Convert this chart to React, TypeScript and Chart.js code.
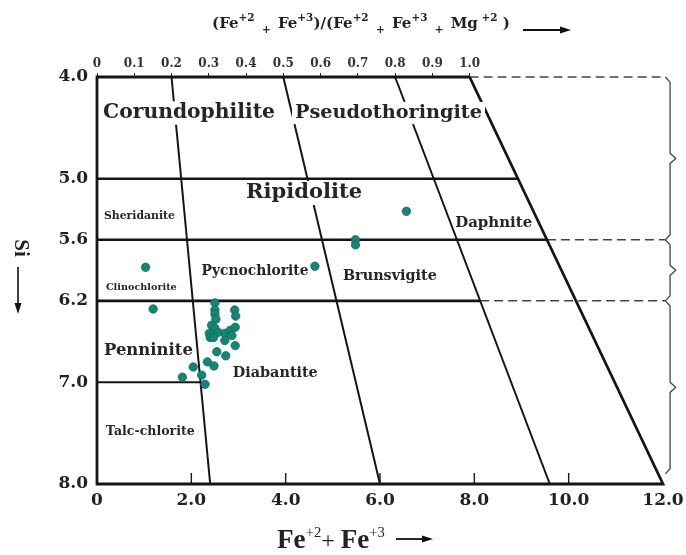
import React, { useEffect, useRef } from "react";
import { Chart, registerables } from "chart.js";

Chart.register(...registerables);

// ---- axis ticks ----
const FE_TICKS = [0, 2, 4, 6, 8, 10, 12];
const SI_TICKS = [4.0, 5.0, 5.6, 6.2, 7.0, 8.0];
const RATIO_TICKS = [0, 0.1, 0.2, 0.3, 0.4, 0.5, 0.6, 0.7, 0.8, 0.9, 1.0];

// ---- samples (Fe2+ + Fe3+, Si) ----
const SAMPLE_FE = [
  6.56, 5.48, 5.48, 4.62, 1.03, 1.19,
  2.50, 2.50, 2.50, 2.52, 2.92, 2.94, 2.43, 2.50, 2.57, 2.38, 2.40,
  2.71, 2.82, 2.93, 2.86, 2.71, 2.47, 2.93, 2.54, 2.73, 2.34, 2.48,
  2.04, 2.22, 1.81, 2.29,
];
const SAMPLE_SI = [
  5.32, 5.60, 5.65, 5.86, 5.87, 6.28,
  6.22, 6.29, 6.33, 6.38, 6.29, 6.35, 6.44, 6.47, 6.51, 6.52, 6.56,
  6.52, 6.49, 6.46, 6.54, 6.59, 6.56, 6.64, 6.70, 6.74, 6.80, 6.84,
  6.85, 6.93, 6.95, 7.02,
];

// ---- field boundaries ----
const FE_SUM_AT_SI4 = 7.9;
const FE_SUM_AT_SI8 = 12;
const RATIO_LINES = [0.2, 0.5, 0.8];
const SI_LINES = [5.0, 5.6, 6.2, 7.0];
const SI_LINE_END_RATIO = [1.0, 1.0, 0.8, 0.2];
const DASHED_SI = [4.0, 5.6, 6.2];
const DASHED_START_RATIO = [1.0, 1.0, 0.8];
const BRACKET_FE = 12.15;
const BRACKET_SI_RANGES = [
  [4.0, 5.6],
  [5.6, 6.2],
  [6.2, 7.9],
];

// ---- field names ----
const FIELD_NAMES = [
  "Corundophilite",
  "Pseudothoringite",
  "Ripidolite",
  "Sheridanite",
  "Clinochlorite",
  "Pycnochlorite",
  "Brunsvigite",
  "Daphnite",
  "Penninite",
  "Diabantite",
  "Talc-chlorite",
];
const FIELD_FE = [1.95, 6.18, 4.39, 0.9, 0.94, 3.35, 6.21, 8.41, 1.09, 3.78, 1.13];
const FIELD_SI = [4.354, 4.354, 5.14, 5.366, 6.064, 5.91, 5.956, 5.435, 6.693, 6.91, 7.49];
// label styling (rendered width in px, white mask behind)
const FIELD_WIDTH_PX = [172, 187, 116, 71, 71, 107, 94, 77, 89, 85, 89];
const FIELD_MASK = [true, true, true, false, false, false, false, false, false, false, false];

const SERIF = '"DejaVu Serif", serif';
const TIMES = '"Liberation Serif", "Times New Roman", serif';

function feOnRatio(r: number, si: number) {
  return r * (FE_SUM_AT_SI4 + ((si - 4) / 4) * (FE_SUM_AT_SI8 - FE_SUM_AT_SI4));
}

type Seg = { t: string; size: number; weight: string; family: string; dy: number };

function drawRich(ctx: CanvasRenderingContext2D, segs: Seg[], x: number, y: number, targetWidth?: number) {
  let total = 0;
  for (const s of segs) {
    ctx.font = `${s.weight} ${s.size}px ${s.family}`;
    total += ctx.measureText(s.t).width;
  }
  const k = targetWidth ? targetWidth / total : 1;
  let cx = x;
  ctx.textAlign = "left";
  ctx.textBaseline = "alphabetic";
  for (const s of segs) {
    ctx.font = `${s.weight} ${s.size * k}px ${s.family}`;
    ctx.fillText(s.t, cx, y + s.dy * k);
    cx += ctx.measureText(s.t).width;
  }
}

function drawArrow(ctx: CanvasRenderingContext2D, x1: number, y1: number, x2: number, y2: number, head = 10, half = 3.5, lw = 1.6) {
  const a = Math.atan2(y2 - y1, x2 - x1);
  ctx.beginPath();
  ctx.lineWidth = lw;
  ctx.moveTo(x1, y1);
  ctx.lineTo(x2 - Math.cos(a) * head * 0.8, y2 - Math.sin(a) * head * 0.8);
  ctx.stroke();
  ctx.beginPath();
  ctx.moveTo(x2, y2);
  ctx.lineTo(x2 - Math.cos(a) * head - Math.sin(a) * half, y2 - Math.sin(a) * head + Math.cos(a) * half);
  ctx.lineTo(x2 - Math.cos(a) * head + Math.sin(a) * half, y2 - Math.sin(a) * head - Math.cos(a) * half);
  ctx.closePath();
  ctx.fill();
}

const overlay = {
  id: "overlay",
  afterDatasetDraw(chart: any, args: any) {
    if (args.index !== 1) return;
    const { ctx } = chart;
    const xs = chart.scales.x;
    const ys = chart.scales.y;
    ctx.save();
    FIELD_NAMES.forEach((name, i) => {
      ctx.font = `bold 20px ${SERIF}`;
      const m = ctx.measureText(name).width;
      const size = (20 * FIELD_WIDTH_PX[i]) / m;
      ctx.font = `bold ${size}px ${SERIF}`;
      const px = xs.getPixelForValue(FIELD_FE[i]);
      const py = ys.getPixelForValue(FIELD_SI[i]);
      if (FIELD_MASK[i]) {
        const h = size * 1.05;
        ctx.fillStyle = "#ffffff";
        ctx.fillRect(px - FIELD_WIDTH_PX[i] / 2 - 3, py - h / 2 - 1, FIELD_WIDTH_PX[i] + 6, h + 2);
      }
      ctx.fillStyle = "#262626";
      ctx.textAlign = "center";
      ctx.textBaseline = "middle";
      ctx.fillText(name, px, py);
    });
    ctx.restore();
  },
  afterDraw(chart: any) {
    const { ctx } = chart;
    const xs = chart.scales.x;
    const area = chart.chartArea;
    ctx.save();
    ctx.strokeStyle = "#1a1a1a";
    ctx.fillStyle = "#1a1a1a";
    // inner tick marks on the bottom axis
    ctx.lineWidth = 1.4;
    FE_TICKS.forEach((v) => {
      if (v === FE_TICKS[0] || v === FE_TICKS[FE_TICKS.length - 1]) return;
      const px = xs.getPixelForValue(v);
      ctx.beginPath();
      ctx.moveTo(px, area.bottom);
      ctx.lineTo(px, area.bottom - 11);
      ctx.stroke();
    });

    // top title
    ctx.fillStyle = "#222";
    const n = (t: string): Seg => ({ t, size: 13, weight: "bold", family: SERIF, dy: 0 });
    const sup = (t: string): Seg => ({ t, size: 9, weight: "bold", family: SERIF, dy: -6 });
    const lo = (t: string): Seg => ({ t, size: 9, weight: "bold", family: SERIF, dy: 4 });
    drawRich(
      ctx,
      [n("(Fe"), sup("+2"), lo("  +  "), n("Fe"), sup("+3"), n(")/(Fe"), sup("+2"), lo("  +  "), n("Fe"), sup("+3"), lo("  +  "), n("Mg"), sup(" +2"), n(" )")],
      212,
      28,
      298
    );
    ctx.fillStyle = "#111";
    ctx.strokeStyle = "#111";
    drawArrow(ctx, 523, 30, 571, 30, 11, 3.5, 1.8);

    // bottom title
    ctx.fillStyle = "#222";
    const B = (t: string): Seg => ({ t, size: 26, weight: "bold", family: TIMES, dy: 0 });
    const S = (t: string): Seg => ({ t, size: 14, weight: "normal", family: TIMES, dy: -11 });
    const P = (t: string): Seg => ({ t, size: 23, weight: "normal", family: TIMES, dy: 0 });
    drawRich(ctx, [B("Fe"), S("+2"), P("+ "), B("Fe"), S("+3")], 277, 548, 108);
    ctx.fillStyle = "#111";
    drawArrow(ctx, 396, 539, 433, 539, 11, 3.5, 1.8);

    // left title "Si" rotated
    ctx.save();
    ctx.translate(20, 248);
    ctx.rotate(Math.PI / 2);
    ctx.fillStyle = "#222";
    ctx.font = `bold 21px ${TIMES}`;
    ctx.textAlign = "center";
    ctx.textBaseline = "middle";
    ctx.fillText("Si", 0, 0);
    ctx.restore();
    drawArrow(ctx, 18, 267, 18, 314, 11, 3.5, 1.6);
    ctx.restore();
  },
};

const zeroPad = (s: any) => {
  s.paddingLeft = 0;
  s.paddingRight = 0;
  s.paddingTop = 0;
  s.paddingBottom = 0;
};

export default function App() {
  const ref = useRef<HTMLCanvasElement | null>(null);

  useEffect(() => {
    if (!ref.current) return;
    const pt = (x: number, y: number) => ({ x, y });
    const line = (data: any[], width: number, extra: any = {}) => ({
      data,
      showLine: true,
      borderColor: "#151515",
      borderWidth: width,
      pointRadius: 0,
      pointHoverRadius: 0,
      fill: false,
      tension: 0,
      clip: false,
      borderJoinStyle: "miter",
      ...extra,
    });

    const datasets: any[] = [];
    // 0: samples
    datasets.push({
      data: SAMPLE_FE.map((fe, i) => pt(fe, SAMPLE_SI[i])),
      pointRadius: 4.2,
      pointStyle: "circle",
      backgroundColor: "#168672",
      borderColor: "#0e6a5a",
      borderWidth: 0.8,
      showLine: false,
      clip: false,
    });
    // 1: frame (top, left, bottom, right boundary)
    datasets.push(
      line(
        [
          pt(feOnRatio(1, 4), 4),
          pt(0, 4),
          pt(0, 8),
          pt(feOnRatio(1, 8), 8),
          pt(feOnRatio(1, 4), 4),
        ],
        2.8
      )
    );
    // ratio lines
    RATIO_LINES.forEach((r) => {
      datasets.push(line([pt(feOnRatio(r, 4), 4), pt(feOnRatio(r, 8), 8)], 2.0));
    });
    // Si boundary lines
    SI_LINES.forEach((si, i) => {
      datasets.push(line([pt(0, si), pt(feOnRatio(SI_LINE_END_RATIO[i], si), si)], si === 7.0 ? 2.0 : 2.6));
    });
    // dashed extensions
    DASHED_SI.forEach((si, i) => {
      datasets.push(
        line([pt(feOnRatio(DASHED_START_RATIO[i], si), si), pt(BRACKET_FE - 0.1, si)], 1.5, {
          borderDash: [9, 5],
          borderColor: "#444",
        })
      );
    });
    // brackets
    BRACKET_SI_RANGES.forEach(([a, b]) => {
      const mid = (a + b) / 2;
      datasets.push(
        line(
          [
            pt(BRACKET_FE - 0.1, a),
            pt(BRACKET_FE, a + 0.05),
            pt(BRACKET_FE, mid - 0.05),
            pt(BRACKET_FE + 0.12, mid),
            pt(BRACKET_FE, mid + 0.05),
            pt(BRACKET_FE, b - 0.05),
            pt(BRACKET_FE - 0.1, b),
          ],
          1.3,
          { borderColor: "#444", borderJoinStyle: "round" }
        )
      );
    });

    const tickFont = { family: SERIF, weight: "bold" as const, size: 17 };

    const chart = new Chart(ref.current, {
      type: "scatter",
      data: { datasets },
      plugins: [overlay],
      options: {
        animation: false,
        responsive: false,
        devicePixelRatio: 1,
        events: [],
        layout: { autoPadding: false, padding: { left: 0, right: 23, top: 0, bottom: 0 } },
        plugins: { legend: { display: false }, tooltip: { enabled: false }, title: { display: false } },
        scales: {
          x: {
            type: "linear",
            position: "bottom",
            min: 0,
            max: 12,
            afterBuildTicks: (s: any) => {
              s.ticks = FE_TICKS.map((v) => ({ value: v }));
            },
            afterFit: (s: any) => {
              s.height = 71;
              zeroPad(s);
            },
            grid: { display: false, drawTicks: false },
            border: { display: false },
            ticks: {
              autoSkip: false,
              maxRotation: 0,
              padding: 6,
              color: "#222",
              font: tickFont,
              callback: (v: any) => (Number(v) === 0 ? "0" : Number(v).toFixed(1)),
            },
          },
          x2: {
            type: "linear",
            axis: "x",
            position: "top",
            min: 0,
            max: FE_SUM_AT_SI8 / FE_SUM_AT_SI4,
            afterBuildTicks: (s: any) => {
              s.ticks = RATIO_TICKS.map((v) => ({ value: v }));
            },
            afterFit: (s: any) => {
              s.height = 77;
              zeroPad(s);
            },
            grid: { display: true, drawOnChartArea: false, drawTicks: true, tickLength: 4, color: "#222", lineWidth: 1 },
            border: { display: false },
            ticks: {
              autoSkip: false,
              maxRotation: 0,
              padding: 2,
              color: "#333",
              font: { family: SERIF, weight: "bold" as const, size: 12 },
              callback: (v: any) => (Number(v) === 0 ? "0" : Number(v).toFixed(1)),
            },
          },
          y: {
            type: "linear",
            position: "left",
            reverse: true,
            min: 4,
            max: 8,
            afterBuildTicks: (s: any) => {
              s.ticks = SI_TICKS.map((v) => ({ value: v }));
            },
            afterFit: (s: any) => {
              s.width = 97;
              zeroPad(s);
            },
            grid: { display: false, drawTicks: false },
            border: { display: false },
            ticks: {
              autoSkip: false,
              padding: 9,
              color: "#222",
              font: tickFont,
              callback: (v: any) => Number(v).toFixed(1),
            },
          },
        },
      } as any,
    });
    return () => chart.destroy();
  }, []);

  return (
    <div style={{ position: "absolute", left: 0, top: 0, width: 686, height: 555, background: "#fff" }}>
      <canvas ref={ref} width={686} height={555} style={{ width: 686, height: 555, display: "block" }} />
    </div>
  );
}
